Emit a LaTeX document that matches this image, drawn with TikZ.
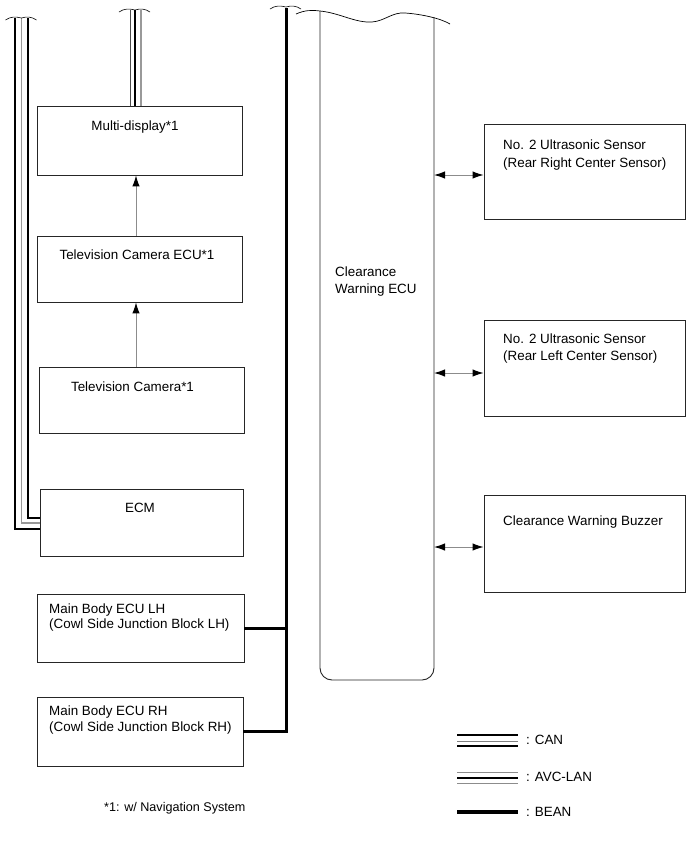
\documentclass[tikz,border=0pt]{standalone}
\usepackage{fontspec}
\setmainfont{Liberation Sans}
\usetikzlibrary{arrows.meta,calc}
\begin{document}
\begin{tikzpicture}[x=1pt,y=-1pt,
  box/.style={draw=black!85, line width=0.9pt, inner sep=0pt},
  txt/.style={font=\fontsize{13.4}{16.5}\selectfont, inner sep=0pt, align=left},
  canblk/.style={line width=2pt, black},
  cangry/.style={line width=1.3pt, black!40},
  bean/.style={line width=3pt, black},
  tip/.style={Latex[length=11pt,width=7.5pt,color=black]},
  arr/.style={draw=black!45, line width=1pt, -{Latex[length=11pt,width=7.5pt,color=black]}},
  darr/.style={draw=black!45, line width=1pt, {Latex[length=11pt,width=7.5pt,color=black]}-{Latex[length=11pt,width=7.5pt,color=black]}},
  brk/.pic={\draw[line width=0.6pt] (-16,2) .. controls (-11,-1.5) and (-6,-1.5) .. (0,0) .. controls (5,-1.5) and (10,-1.5) .. (15,2);}
]
\useasboundingbox (0,0) rectangle (690,855);

% boxes
\node[box, minimum width=205pt, minimum height=69pt] (md) at (139.5,140.5) {};
\node[box, minimum width=205pt, minimum height=66pt] (tvecu) at (139.5,269) {};
\node[box, minimum width=205pt, minimum height=66pt] (tvcam) at (141.5,400) {};
\node[box, minimum width=203pt, minimum height=67pt] (ecm) at (141.5,522.5) {};
\node[box, minimum width=207pt, minimum height=68pt] (lh) at (140.5,628) {};
\node[box, minimum width=206pt, minimum height=69pt] (rh) at (140,731.5) {};
\node[box, minimum width=201pt, minimum height=95pt] (s1) at (584.5,171.5) {};
\node[box, minimum width=201pt, minimum height=96pt] (s2) at (584.5,368) {};
\node[box, minimum width=201pt, minimum height=97pt] (bz) at (584.5,543.5) {};

% texts
\node[txt] (mdt) at (135,127.5) {Multi-display*1};
\node[txt] (tvecut) at (137,255) {Television Camera ECU*1};
\node[txt] (tvcamt) at (132.5,387) {Television Camera*1};
\node[txt] (ecmt) at (140,508) {ECM};
\node[txt, anchor=north west, font=\fontsize{13.4}{15.5}\selectfont] (lht) at (49,603.5) {Main Body ECU LH\\(Cowl Side Junction Block LH)};
\node[txt, anchor=north west, font=\fontsize{13.4}{15.5}\selectfont] (rht) at (49,706) {Main Body ECU RH\\(Cowl Side Junction Block RH)};
\node[txt, anchor=north west, font=\fontsize{13.4}{17.5}\selectfont] (s1t) at (503,140) {No. 2 Ultrasonic Sensor\\(Rear Right Center Sensor)};
\node[txt, anchor=north west, font=\fontsize{13.4}{17}\selectfont] (s2t) at (503,333.5) {No. 2 Ultrasonic Sensor\\(Rear Left Center Sensor)};
\node[txt, anchor=north west] (bzt) at (503,515.5) {Clearance Warning Buzzer};

% Clearance Warning ECU
\draw[box, rounded corners=12pt] (320,11) -- (320,680) -- (434,680) -- (434,17);
\draw[line width=0.7pt] (296,14) .. controls (305,10) and (312,10) .. (320,11) .. controls (340,13) and (355,23) .. (372,22) .. controls (385,21) and (392,12) .. (405,13) .. controls (420,14) and (440,18) .. (450,24);
\coordinate (ecuR) at (434,0);
\node[txt, anchor=north west] (ecu) at (335,267) {Clearance\\Warning ECU};

% CAN bundle
\draw[canblk] (15,18) |- ([yshift=-6.5pt]ecm.west);
\draw[cangry] (21.5,18) |- ([yshift=-0.5pt]ecm.west);
\draw[canblk] (28,18) |- ([yshift=4.5pt]ecm.west);
\pic at (21.5,18) {brk};

% AVC-LAN bundle
\draw[line width=0.9pt, black!70] ([xshift=-9.5pt]md.north) -- ++(0,-96);
\draw[line width=2pt, black] ([xshift=-4.5pt]md.north) -- ++(0,-96);
\draw[cangry] ([xshift=1.5pt]md.north) -- ++(0,-96);
\pic at (135,10) {brk};

% BEAN
\coordinate (beanTop) at (286,8);
\draw[bean] (beanTop) |- (rh.east);
\draw[bean] (lh.east) -- (lh.east -| beanTop);
\pic at (286,7) {brk};

% vertical arrows
\coordinate (v1) at ([xshift=-3.5pt]md.south);
\draw[arr] (v1 |- tvecu.north) -- (v1);
\coordinate (v2) at ([xshift=-3.5pt]tvecu.south);
\draw[arr] (v2 |- tvcam.north) -- (v2);

% horizontal arrows
\coordinate (a1) at ([yshift=-3.5pt]s1.west);
\coordinate (a2) at ([yshift=-5pt]s2.west);
\coordinate (a3) at ([yshift=-3.5pt]bz.west);
\draw[darr] (a1 -| ecuR) -- (a1);
\draw[darr] (a2 -| ecuR) -- (a2);
\draw[darr] (a3 -| ecuR) -- (a3);

% legend
\draw[canblk] (457,735) -- (518,735);
\draw[line width=1pt, black!50] (457,741) -- (518,741);
\draw[canblk] (457,746) -- (518,746);
\node[txt, anchor=west] (lcan) at (526,740) {: CAN};
\draw[line width=1pt, black!45] (457,772) -- (518,772);
\draw[line width=2pt, black] (457,777.5) -- (518,777.5);
\draw[line width=1pt, black!45] (457,783) -- (518,783);
\node[txt, anchor=west] (lavc) at (526,777) {: AVC-LAN};
\draw[line width=3.5pt, black] (457,812) -- (518,812);
\node[txt, anchor=west] (lbean) at (526,812) {: BEAN};

% footnote
\node[txt, anchor=west, font=\fontsize{12.6}{15}\selectfont] (fn) at (104,808) {*1: w/ Navigation System};
\end{tikzpicture}
\end{document}
